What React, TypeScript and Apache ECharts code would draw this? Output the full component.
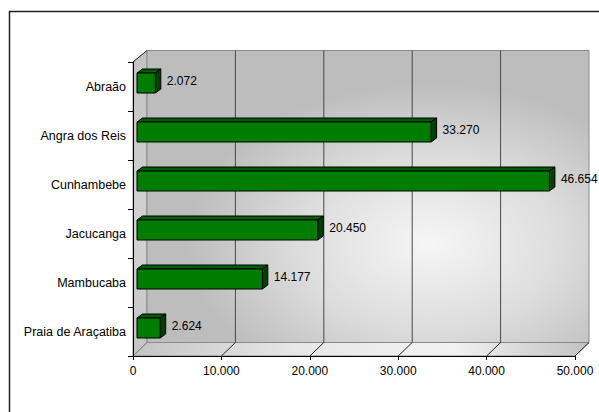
import React, { useEffect, useRef } from "react";
import * as echarts from "echarts";

const categories = ["Abraão", "Angra dos Reis", "Cunhambebe", "Jacucanga", "Mambucaba", "Praia de Araçatiba"];
const values = [2072, 33270, 46654, 20450, 14177, 2624];
const xTicks = [0, 10000, 20000, 30000, 40000, 50000];

const FONT = "'Liberation Sans', Arial, sans-serif";
const fmt = (v: number) => String(Math.round(v)).replace(/\B(?=(\d{3})+(?!\d))/g, ".");

// 3D wall offsets
const DX = 14;
const DY_TOP = -11.5;
const DY_BOT = -13.5;

export default function App() {
  const ref = useRef<HTMLDivElement>(null);
  useEffect(() => {
    if (!ref.current) return;
    const chart = echarts.init(ref.current, undefined, { renderer: "svg" });

    const wallsRender = (params: any, api: any) => {
      const cs = params.coordSys;
      const x0 = cs.x, y0 = cs.y, x1 = cs.x + cs.width, y1 = cs.y + cs.height;
      const children: any[] = [];
      // left wall
      children.push({
        type: "polygon",
        shape: { points: [[x0, y0], [x0 + DX, y0 + DY_TOP], [x0 + DX, y1 + DY_BOT], [x0, y1]] },
        style: { fill: new echarts.graphic.LinearGradient(0, 0, 0, 1, [
          { offset: 0, color: "#c2c2c2" }, { offset: 0.6, color: "#d2d2d2" }, { offset: 1, color: "#c4c4c4" }]),
          stroke: "#8a8a8a", lineWidth: 1 },
      });
      // back wall
      children.push({
        type: "rect",
        shape: { x: x0 + DX, y: y0 + DY_TOP, width: x1 - x0, height: (y1 + DY_BOT) - (y0 + DY_TOP) },
        style: { fill: new echarts.graphic.RadialGradient(0.64, 0.66, 0.55, [
          { offset: 0, color: "#f6f6f6" }, { offset: 0.55, color: "#dcdcdc" }, { offset: 1, color: "#bdbdbd" }]),
          stroke: "#8a8a8a", lineWidth: 1 },
      });
      // floor
      children.push({
        type: "polygon",
        shape: { points: [[x0, y1], [x1, y1], [x1 + DX, y1 + DY_BOT], [x0 + DX, y1 + DY_BOT]] },
        style: { fill: new echarts.graphic.LinearGradient(0, 0, 1, 0, [
          { offset: 0, color: "#c4c4c4" }, { offset: 0.35, color: "#e6e6e6" }, { offset: 0.7, color: "#f2f2f2" }, { offset: 1, color: "#c2c2c2" }]),
          stroke: "#8a8a8a", lineWidth: 1 },
      });
      // gridlines on back wall + floor diagonals
      xTicks.forEach((v, i) => {
        const cx = api.coord([v, 0])[0];
        if (i > 0 && i < xTicks.length - 1) {
          children.push({
            type: "line",
            shape: { x1: cx + DX, y1: y0 + DY_TOP, x2: cx + DX, y2: y1 + DY_BOT },
            style: { stroke: "#484848", lineWidth: 1 },
          });
        }
        children.push({
          type: "line",
          shape: { x1: cx, y1: y1, x2: cx + DX, y2: y1 + DY_BOT },
          style: { stroke: i === 0 ? "#8a8a8a" : "#222", lineWidth: 1 },
        });
      });
      // top diagonal of left wall
      children.push({
        type: "line",
        shape: { x1: x0, y1: y0, x2: x0 + DX, y2: y0 + DY_TOP },
        style: { stroke: "#333", lineWidth: 1 },
      });
      return { type: "group", children };
    };

    const FX = 4, FY = -3.5, H = 20, DDX = 5.5, DDY = -4;
    const barsRender = (params: any, api: any) => {
      const v = api.value(0);
      const c = api.value(1);
      const p0 = api.coord([0, c]);
      const p1 = api.coord([v, c]);
      const x0 = p0[0] + FX, x1 = p1[0] + FX;
      const yT = p0[1] + FY - H / 2, yB = yT + H;
      return {
        type: "group",
        children: [
          {
            type: "polygon",
            shape: { points: [[x0, yT], [x1, yT], [x1 + DDX, yT + DDY], [x0 + DDX, yT + DDY]] },
            style: { fill: "#005c00", stroke: "#000", lineWidth: 1 },
          },
          {
            type: "polygon",
            shape: { points: [[x1, yT], [x1 + DDX, yT + DDY], [x1 + DDX, yB + DDY], [x1, yB]] },
            style: { fill: "#004000", stroke: "#000", lineWidth: 1 },
          },
          {
            type: "rect",
            shape: { x: x0, y: yT, width: x1 - x0, height: H },
            style: { fill: "#007d00", stroke: "#000", lineWidth: 1 },
          },
          {
            type: "text",
            x: x1 + DDX + 6,
            y: yT + H / 2 - 2,
            style: { text: fmt(v), fill: "#000", fontSize: 12, fontFamily: FONT, align: "left", verticalAlign: "middle" },
          },
        ],
      };
    };

    chart.setOption({
      animation: false,
      backgroundColor: "#ffffff",
      textStyle: { fontFamily: FONT },
      grid: { left: 133, right: 24, top: 62, bottom: 56, containLabel: false },
      xAxis: {
        type: "value", min: 0, max: 50000, interval: 10000, z: 5,
        axisLine: { show: true, lineStyle: { color: "#000", width: 1 } },
        axisTick: { show: true, length: 4, lineStyle: { color: "#000" } },
        splitLine: { show: false },
        axisLabel: { fontSize: 12, color: "#000", margin: 9, fontFamily: FONT, formatter: (v: number) => fmt(v) },
      },
      yAxis: {
        type: "category", data: categories, inverse: true, z: 5,
        axisLine: { show: true, lineStyle: { color: "#000", width: 1 } },
        axisTick: { show: true, length: 5, alignWithLabel: false, lineStyle: { color: "#000" } },
        splitLine: { show: false },
        axisLabel: { fontSize: 12.5, color: "#000", margin: 7, fontFamily: FONT },
      },
      graphic: [
        {
          type: "rect", z: 100, silent: true,
          shape: { x: 9.5, y: 11.5, width: 700, height: 600 },
          style: { fill: "none", stroke: "#222", lineWidth: 1.5 },
        },
      ],
      series: [
        { type: "custom", name: "walls", coordinateSystem: "cartesian2d", data: [[0, 0]], z: 1, silent: true, clip: false, renderItem: wallsRender },
        { type: "custom", name: "bars", coordinateSystem: "cartesian2d", data: values.map((v, i) => [v, i]), z: 10, silent: true, clip: false, renderItem: barsRender },
      ],
    });
    return () => chart.dispose();
  }, []);
  return <div ref={ref} style={{ position: "fixed", left: 0, top: 0, width: 599, height: 412 }} />;
}
